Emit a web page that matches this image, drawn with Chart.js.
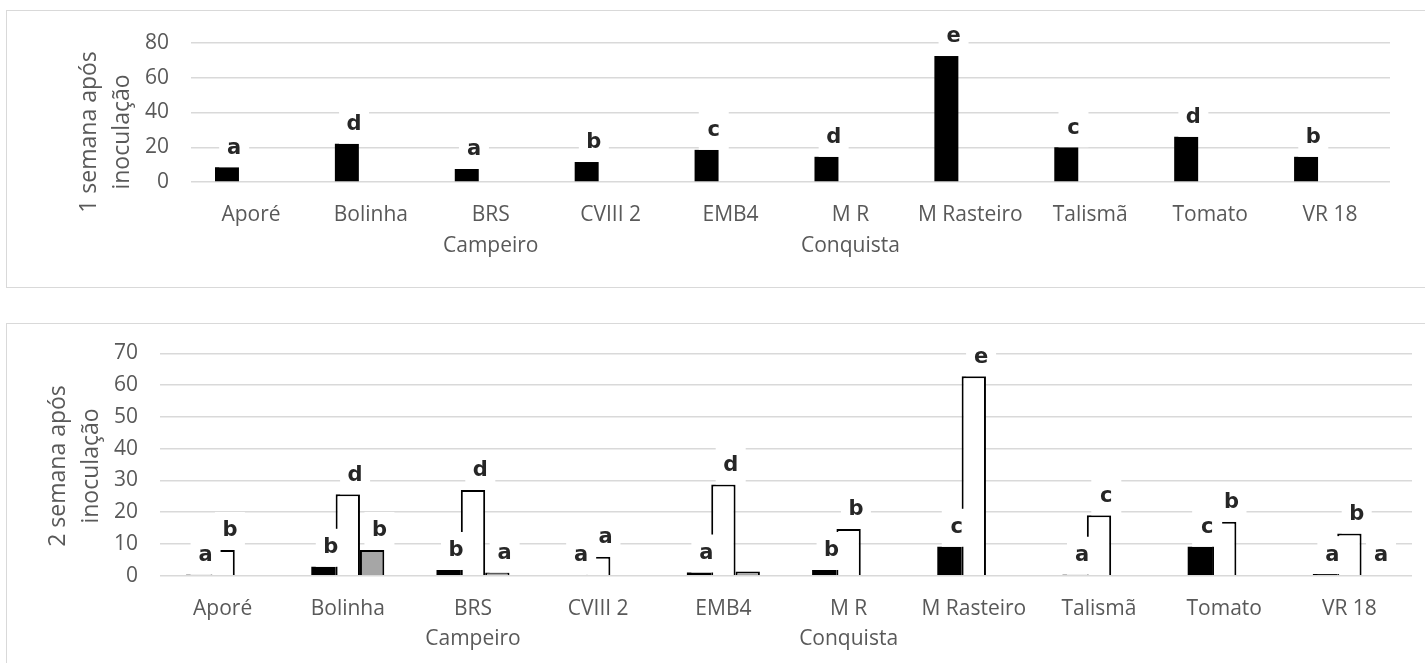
<!DOCTYPE html>
<html>
<head>
<meta charset="utf-8">
<script src="https://cdn.jsdelivr.net/npm/chart.js@4.4.0/dist/chart.umd.min.js"></script>
<style>
  html, body { margin: 0; padding: 0; background: #fff; overflow: hidden; }
  body { width: 1425px; height: 663px; position: relative; }
  .painel { position: absolute; border: 1.5px solid #d9d9d9; box-sizing: border-box; }
  canvas { position: absolute; }
</style>
</head>
<body>
<div class="painel" style="left:6px;top:10px;width:1440px;height:278px"></div>
<canvas id="semana1" width="1420" height="274" style="left:8px;top:12px"></canvas>
<div class="painel" style="left:6px;top:323px;width:1440px;height:400px"></div>
<canvas id="semana2" width="1420" height="340" style="left:8px;top:325px"></canvas>
<script>
const categorias = ["Aporé", "Bolinha", ["BRS", "Campeiro"], "CVIII 2", "EMB4", ["M R", "Conquista"], "M Rasteiro", "Talismã", "Tomato", "VR 18"];

// 1 semana após inoculação
const sem1Preto = [8.5, 22, 7.5, 11.5, 18.5, 14.5, 72.5, 20, 26, 14.5];
const sem1Branco = [0, 0, 0, 0, 0, 0, 0, 0, 0, 0];
const sem1Cinza = [0, 0, 0, 0, 0, 0, 0, 0, 0, 0];
const sem1Letras = ["a", "d", "a", "b", "c", "d", "e", "c", "d", "b"];
const sem1Ticks = [0, 20, 40, 60, 80];

// 2 semana após inoculação
const sem2Preto = [0.3, 2.8, 1.8, 0.2, 1.0, 1.8, 9.1, 0.3, 9.1, 0.5];
const sem2Branco = [8.1, 25.6, 27, 6, 28.7, 14.7, 62.8, 19, 17, 13.3];
const sem2Cinza = [0, 8.1, 1, 0, 1.3, 0, 0, 0, 0, 0.2];
const sem2LetrasPreto = ["a", "b", "b", "a", "a", "b", "c", "a", "c", "a"];
const sem2LetrasBranco = ["b", "d", "d", "a", "d", "b", "e", "c", "b", "b"];
const sem2LetrasCinza = ["", "b", "a", "", "", "", "", "", "", "a"];
const sem2Ticks = [0, 10, 20, 30, 40, 50, 60, 70];

const cinzaTexto = "#595959";

// letras de significância com caixa branca, como no Excel
const letrasPlugin = {
    id: "letras",
    afterDatasetsDraw(chart) {
        const ctx = chart.ctx;
        ctx.save();
        ctx.font = "bold 21px 'DejaVu Sans'";
        ctx.textAlign = "center";
        ctx.textBaseline = "middle";
        chart.data.datasets.forEach((ds, i) => {
            if (!ds.letras) return;
            chart.getDatasetMeta(i).data.forEach((bar, j) => {
                const letra = ds.letras[j];
                if (!letra) return;
                const cx = bar.x + bar.width * 0.3;
                const topo = Math.min(bar.y, bar.base);
                ctx.fillStyle = "#fff";
                ctx.fillRect(cx - 15, topo - 38, 30, 38);
                ctx.fillStyle = "#262626";
                ctx.fillText(letra, cx, topo - 19);
            });
        });
        ctx.restore();
    },
};

// título do eixo y em duas linhas
const tituloY = {
    id: "tituloY",
    afterDraw(chart, args, opts) {
        const { ctx, chartArea } = chart;
        ctx.save();
        ctx.font = "23px 'Open Sans'";
        ctx.fillStyle = cinzaTexto;
        ctx.textAlign = "center";
        ctx.textBaseline = "middle";
        const cy = (chartArea.top + chartArea.bottom) / 2 + opts.desloc;
        opts.linhas.forEach((t, k) => {
            ctx.save();
            ctx.translate(chartArea.left - 102 + k * 33, cy);
            ctx.rotate(-Math.PI / 2);
            ctx.fillText(t, 0, 0);
            ctx.restore();
        });
        ctx.restore();
    },
};

function grafico(id, datasets, ticks, cfg) {
    return new Chart(document.getElementById(id), {
        type: "bar",
        data: { labels: categorias, datasets: datasets },
        plugins: [letrasPlugin, tituloY],
        options: {
            responsive: false,
            animation: false,
            layout: { padding: { top: cfg.topo, right: cfg.direita, left: 0, bottom: 0 } },
            datasets: { bar: { categoryPercentage: cfg.catPct, barPercentage: 1 } },
            plugins: {
                legend: { display: false },
                tooltip: { enabled: false },
                tituloY: { linhas: cfg.titulo, desloc: cfg.desloc },
            },
            scales: {
                x: {
                    grid: { display: false },
                    border: { display: false },
                    ticks: {
                        color: cinzaTexto,
                        font: { family: "Open Sans", size: 21, lineHeight: 1.45 },
                        padding: 10,
                        maxRotation: 0,
                        autoSkip: false,
                    },
                    afterFit: (s) => { s.height = cfg.alturaX; },
                },
                y: {
                    min: ticks[0],
                    max: ticks[ticks.length - 1],
                    grid: { color: "#d9d9d9", lineWidth: 1.5, drawTicks: false },
                    border: { display: false },
                    ticks: {
                        stepSize: ticks[1] - ticks[0],
                        padding: 22,
                        color: cinzaTexto,
                        font: { family: "Open Sans", size: 21 },
                    },
                    afterFit: (s) => {
                        s.width = cfg.larguraY;
                        s.paddingTop = 0;
                        s.paddingBottom = 0;
                    },
                },
            },
        },
    });
}

grafico("semana1", [
    { data: sem1Preto, backgroundColor: "#000", letras: sem1Letras },
    { data: sem1Branco, backgroundColor: "#fff", borderColor: "#000", borderWidth: 2 },
    { data: sem1Cinza, backgroundColor: "#a6a6a6", borderColor: "#000", borderWidth: 2 },
], sem1Ticks, {
    topo: 31, direita: 38, catPct: 0.6, alturaX: 104, larguraY: 183,
    titulo: ["1 semana após", "inoculação"], desloc: 19.5,
});

grafico("semana2", [
    { data: sem2Preto, backgroundColor: "#000", letras: sem2LetrasPreto },
    { data: sem2Branco, backgroundColor: "#fff", borderColor: "#000", borderWidth: 2, letras: sem2LetrasBranco },
    { data: sem2Cinza, backgroundColor: "#a6a6a6", borderColor: "#000", borderWidth: 2, letras: sem2LetrasCinza },
], sem2Ticks, {
    topo: 28.3, direita: 16, catPct: 0.583, alturaX: 89.3, larguraY: 152,
    titulo: ["2 semana após", "inoculação"], desloc: 1.5,
});
</script>
</body>
</html>
